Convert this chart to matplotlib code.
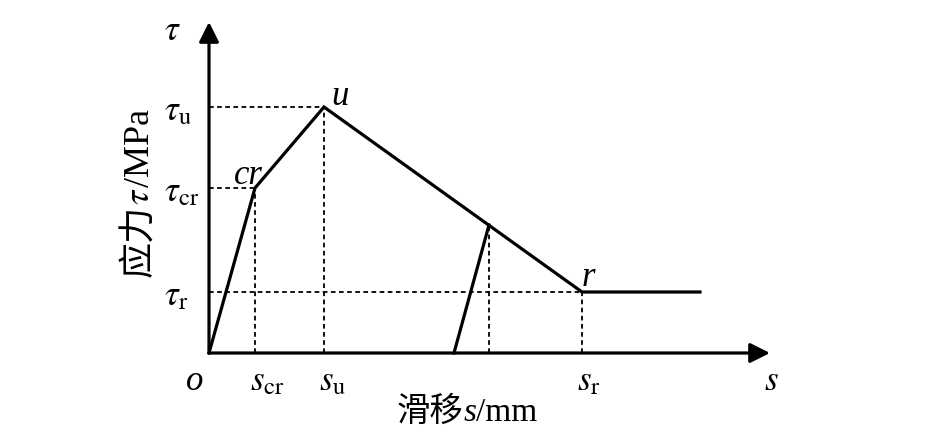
import matplotlib
matplotlib.use('Agg')
import matplotlib.pyplot as plt
from matplotlib.transforms import IdentityTransform

plt.rcParams['mathtext.fontset'] = 'stix'
plt.rcParams['font.family'] = ['Liberation Serif', 'Noto Sans CJK SC']

# key points of the bond-slip curve (schematic units)
s_cr, tau_cr = 4.6, 16.5
s_u, tau_u = 11.5, 24.6
s_un, tau_un = 28.0, 12.8   # point where unloading starts
s_r, tau_r = 37.3, 6.1
s_end = 49.1
s_base = 24.5               # unloading branch meets the s axis
s_max, tau_max = 56.1, 33.1  # arrow tips

curve_s = [0, s_cr, s_u, s_r, s_end]
curve_tau = [0, tau_cr, tau_u, tau_r, tau_r]
unload_s = [s_base, s_un]
unload_tau = [0, tau_un]

fig = plt.figure(figsize=(9.49, 4.37), dpi=100)
ax = fig.add_axes([0, 0, 1, 1])
ax.set_xlim(-20.9, 74.0)
ax.set_ylim(-8.4, 35.3)
ax.axis('off')

lw = 2.3
dash = dict(color='k', lw=1.3, ls=(0, (2.6, 1.9)))

# axes with arrows
arw = dict(arrowstyle='-|>,head_length=0.6,head_width=0.3', mutation_scale=20,
           lw=lw, color='k', shrinkA=0, shrinkB=0)
ax.annotate('', xy=(s_max, 0), xytext=(0, 0), arrowprops=arw)
ax.annotate('', xy=(0, tau_max), xytext=(0, 0), arrowprops=arw)

# dashed guides
for s, t in [(s_cr, tau_cr), (s_u, tau_u), (s_un, tau_un), (s_r, tau_r)]:
    ax.plot([s, s], [0, t], **dash)
for s, t in [(s_cr, tau_cr), (s_u, tau_u), (s_r, tau_r)]:
    ax.plot([0, s], [t, t], **dash)

ax.plot(curve_s, curve_tau, color='k', lw=lw, solid_joinstyle='miter')
ax.plot(unload_s, unload_tau, color='k', lw=lw)

mfs = 25  # math labels
ifs = 25  # italic point labels
# tau labels
ax.text(-3.7, 32.1, r'$\tau$', fontsize=mfs, ha='center', va='center')
for t, lab in [(tau_u, 'u'), (tau_cr, 'cr'), (tau_r, 'r')]:
    ax.text(-4.5, t - 0.5, r'$\tau_\mathrm{%s}$' % lab, fontsize=mfs, ha='left', va='center')
# s labels
ax.text(-1.4, -2.9, 'o', fontsize=ifs, style='italic', ha='center', va='center')
for s, lab in [(s_cr, 'cr'), (s_u, 'u'), (s_r, 'r')]:
    ax.text(s - 0.5, -2.9, r'$s_\mathrm{%s}$' % lab, fontsize=mfs, ha='left', va='center')
ax.text(56.2, -2.9, r'$s$', fontsize=mfs, ha='center', va='center')
# point labels
ax.text(3.9, 17.7, 'cr', fontsize=ifs, style='italic', ha='center', va='center')
ax.text(13.1, 25.6, 'u', fontsize=ifs, style='italic', ha='center', va='center')
ax.text(37.9, 7.5, 'r', fontsize=ifs, style='italic', ha='center', va='center')


def mixed_label(parts, centre, base, rot):
    # lay out text pieces one after another along the baseline (pixels)
    r = fig.canvas.get_renderer()
    objs = []
    for s, kw in parts:
        objs.append(fig.text(0, 0, s, transform=IdentityTransform(), rotation=rot,
                             rotation_mode='anchor', ha='left', va='baseline', **kw))
    sizes = []
    for o in objs:
        bb = o.get_window_extent(r)
        sizes.append(bb.height if rot else bb.width)
    pos = -sum(sizes) / 2
    for o, L in zip(objs, sizes):
        if rot:
            o.set_position((base, centre + pos))
        else:
            o.set_position((centre + pos, base))
        pos += L


def lab_font(size):
    cjk = dict(fontsize=size, family=['Noto Sans CJK SC'])
    lat = dict(fontsize=size, family=['Liberation Serif'])
    return cjk, lat


cjk, lat = lab_font(24)
mixed_label([('滑移', cjk), ('s', dict(lat, style='italic')), ('/mm', lat)], 467, 437 - 421, 0)
cjk, lat = lab_font(26)
mixed_label([('应力', cjk), (r'$\tau$', dict(fontsize=26)), ('/MPa', lat)], 437 - 193, 149, 90)

fig.savefig('out.png', dpi=100)
